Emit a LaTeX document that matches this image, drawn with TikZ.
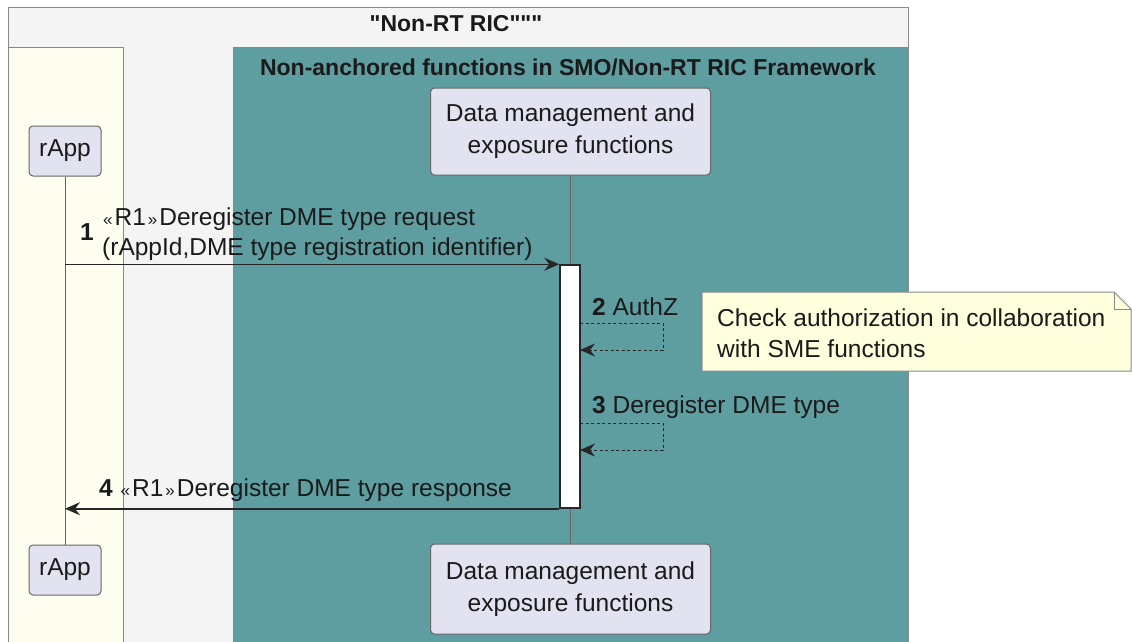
\documentclass[tikz,border=0pt]{standalone}
\usepackage{fontspec}
\setmainfont{Liberation Sans}[Ligatures=TeXOff]
\usetikzlibrary{arrows.meta}
\definecolor{outerfill}{HTML}{F4F4F4}
\definecolor{boxline}{HTML}{888888}
\definecolor{leftfill}{HTML}{FEFEF0}
\definecolor{tealfill}{HTML}{5F9EA0}
\definecolor{partfill}{HTML}{E2E2F0}
\definecolor{partline}{HTML}{666666}
\definecolor{notefill}{HTML}{FEFFDD}
\definecolor{textcol}{HTML}{1A1A1A}
\newcommand{\gl}{\hspace{1pt}{\fontsize{17}{17}\selectfont «}\hspace{2pt}}
\newcommand{\gr}{\hspace{2pt}{\fontsize{17}{17}\selectfont »}\hspace{2pt}}
\begin{document}
\begin{tikzpicture}[x=1pt,y=-1pt,
  font=\fontsize{24.5}{30}\selectfont, text=textcol,
  grpbox/.style={draw=boxline, line width=1pt},
  part/.style={draw=partline, fill=partfill, rounded corners=4pt, line width=1pt,
    align=center, inner sep=0pt, font=\fontsize{24.5}{32}\selectfont},
  life/.style={draw=black!60, line width=1pt},
  actbar/.style={draw=black!85, fill=white, line width=1.5pt, minimum width=20pt, minimum height=243pt, inner sep=0pt},
  msg/.style={draw=black!85, line width=1.5pt, -{Stealth[length=15pt,width=13pt,inset=5pt]}},
  selfmsg/.style={draw=black!85, line width=1pt, dash pattern=on 3pt off 2.5pt, -{Stealth[length=15pt,width=13pt,inset=5pt]}},
  lbl/.style={inner sep=0pt, anchor=west, align=left},
  num/.style={inner sep=0pt, font=\fontsize{24.5}{30}\selectfont\bfseries}]
\useasboundingbox (0,0) rectangle (1132,642);
\fill[white] (0,0) rectangle (1132,642);
% group boxes
\draw[grpbox, fill=outerfill] (8,8) rectangle (908,660);
\draw[grpbox, fill=leftfill] (8,48) rectangle (123,660);
\draw[grpbox, fill=tealfill] (233,48) rectangle (908,660);
\node[inner sep=0pt, font=\fontsize{23}{30}\selectfont\bfseries] (title1) at (456,24) {"Non-RT RIC"""};
\node[inner sep=0pt, font=\fontsize{23}{30}\selectfont\bfseries] (title2) at (568,67) {Non-anchored functions in SMO/Non-RT RIC Framework};
% participants
\node[part, minimum width=72pt, minimum height=50pt] (rapp1) at (65,151) {rApp};
\node[part, minimum width=72pt, minimum height=50pt] (rapp2) at (65,570) {rApp};
\node[part, minimum width=280pt, minimum height=87pt] (dme1) at (570.5,131.5) {Data management and\\exposure functions};
\node[part, minimum width=280pt, minimum height=90pt] (dme2) at (570.5,589) {Data management and\\exposure functions};
% lifelines
\draw[life] (rapp1) -- (rapp2);
\draw[life] (dme1) -- (dme2);
% activation
\node[actbar] (act) at (570,386.5) {};
% message 1
\draw[msg] (rapp1.south |- act.north west) -- (act.north west);
\node[num] (n1) at (87,232) {1};
\node[lbl] (l1) at (102,234) {\gl R1\gr Deregister DME type request\\(rAppId,DME type registration identifier)};
% message 2
\coordinate (s2a) at (580,323);
\coordinate (s2b) at (580,350);
\draw[selfmsg] (s2a) -- (663,323) -- (663,350) -- (s2b);
\node[lbl] (l2) at (592,307) {\textbf{2} AuthZ};
% note
\coordinate (na) at (702,292);
\coordinate (nb) at (1131,371);
\draw[boxline, fill=notefill, line width=1pt] (na) -- (1114,292) -- (1131,309) -- (nb) -- (702,371) -- cycle;
\draw[boxline, line width=1pt] (1114,292) -- (1114,309) -- (1131,309);
\node[lbl, font=\fontsize{24.5}{31}\selectfont] (note) at (717,333) {Check authorization in collaboration\\with SME functions};
% message 3
\coordinate (s3a) at (580,423);
\coordinate (s3b) at (580,450);
\draw[selfmsg] (s3a) -- (663,423) -- (663,450) -- (s3b);
\node[lbl] (l3) at (592,407) {\textbf{3} Deregister DME type};
% message 4
\draw[msg] (act.south west) -- (rapp1.south |- act.south west);
\node[lbl] (l4) at (99,490) {\textbf{4} \gl R1\gr Deregister DME type response};
\end{tikzpicture}
\end{document}
